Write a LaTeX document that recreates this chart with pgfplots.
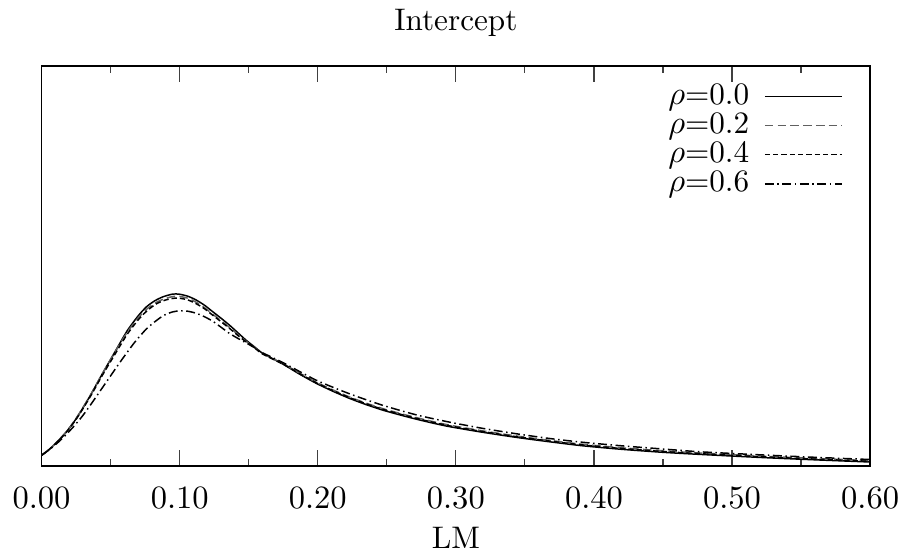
\documentclass[border=0pt]{standalone}
\usepackage{pgfplots}
\pgfplotsset{compat=1.18}
\definecolor{dgray}{RGB}{96,96,96}
\begin{document}
\fontsize{10.5}{12.6}\selectfont
\begin{tikzpicture}
\begin{axis}[
  scale only axis,
  width=278.9pt, height=134.7pt,
  xmin=0, xmax=0.6, ymin=0, ymax=400,
  xtick={0,0.1,0.2,0.3,0.4,0.5,0.6},
  xticklabels={$0.00$,$0.10$,$0.20$,$0.30$,$0.40$,$0.50$,$0.60$},
  minor xtick={0.05,0.15,0.25,0.35,0.45,0.55},
  ytick=\empty,
  xtick pos=both, xticklabel pos=lower,
  tick align=inside,
  major tick length=5.4pt, minor tick length=2.4pt,
  tick style={line width=0.4pt, black!75},
  axis line style={line width=0.6pt},
  xticklabel style={yshift=-3.6pt},
  xlabel={LM},
  xlabel style={at={(axis description cs:0.5,0)}, anchor=base, yshift=-27.7pt},
  title={Intercept},
  every axis title shift=0pt,
  title style={at={(axis description cs:0.5,1)}, anchor=base, yshift=11.7pt},
  legend plot pos=right,
  legend cell align=right,
  legend style={draw=none, fill=none, at={(rel axis cs:1,1)}, anchor=north east,
    xshift=-6.1pt, yshift=-3.3pt, nodes={inner ysep=0.6pt, inner xsep=2pt}, row sep=0pt},
  legend image code/.code={\path (0pt,0pt); \draw[#1] (3pt,0pt) -- (28.9pt,0pt);},
  every axis plot/.append style={line width=0.5pt, smooth, tension=0.4},
]
\addplot[black] coordinates {
(0.000,10.5) (0.006,17) (0.012,25) (0.018,34) (0.024,45) (0.030,58) (0.036,72)
(0.044,92) (0.054,116) (0.062,135) (0.070,150) (0.076,159) (0.082,165) (0.088,169)
(0.095,171.7) (0.100,171.5) (0.106,169.5) (0.112,165.7) (0.118,160.5) (0.124,154)
(0.130,147.5) (0.136,140.7) (0.142,133.2) (0.148,125.7) (0.155,118) (0.160,112.5)
(0.175,101.5) (0.187,91.5) (0.199,82.4) (0.211,74.5) (0.223,67.4) (0.235,61.2)
(0.247,55.7) (0.260,50.7) (0.272,46.4) (0.284,42.5) (0.296,39) (0.320,33.4)
(0.344,28.4) (0.368,24) (0.392,20) (0.420,16.5) (0.450,13.5) (0.477,11.4)
(0.520,8.4) (0.560,6) (0.600,3.8)
};
\addlegendentry{$\rho$=0.0}
\addplot[dgray, dash pattern=on 2.9pt off 1.4pt] coordinates {
(0.000,10.5) (0.006,17) (0.012,25) (0.018,34.2) (0.024,45.3) (0.030,58.3) (0.036,72.2)
(0.044,92) (0.054,115.5) (0.062,133.5) (0.070,148) (0.076,156.5) (0.082,162.5) (0.088,166.5)
(0.095,169.2) (0.100,169.3) (0.106,167.5) (0.112,163.5) (0.118,158) (0.124,151.5)
(0.130,145) (0.136,138.5) (0.142,131.5) (0.148,124.5) (0.155,117.5) (0.160,112.3)
(0.175,102) (0.187,92.5) (0.199,83.5) (0.211,75.8) (0.223,68.8) (0.235,62.6)
(0.247,57.2) (0.260,52.2) (0.272,48) (0.284,44) (0.296,40.5) (0.320,34.8)
(0.344,29.8) (0.368,25.4) (0.392,21.5) (0.420,18) (0.450,15) (0.477,12.8)
(0.520,9.8) (0.560,7.4) (0.600,5.2)
};
\addlegendentry{$\rho$=0.2}
\addplot[black, dash pattern=on 1.8pt off 1pt] coordinates {
(0.000,10.5) (0.006,16.8) (0.012,24.7) (0.018,33.7) (0.024,44.5) (0.030,57.2) (0.036,71)
(0.044,90.5) (0.054,113.5) (0.062,131.5) (0.070,146) (0.076,154.5) (0.082,161) (0.088,165)
(0.095,167.4) (0.100,167.5) (0.106,165.8) (0.112,162) (0.118,157) (0.124,150.5)
(0.130,144) (0.136,137.5) (0.142,130.5) (0.148,124) (0.155,117) (0.160,111.8)
(0.175,101.5) (0.187,92) (0.199,83) (0.211,75.2) (0.223,68.2) (0.235,62)
(0.247,56.5) (0.260,51.5) (0.272,47.2) (0.284,43.3) (0.296,39.8) (0.320,34.1)
(0.344,29.1) (0.368,24.7) (0.392,20.8) (0.420,17.3) (0.450,14.3) (0.477,12.1)
(0.520,9.1) (0.560,6.7) (0.600,4.5)
};
\addlegendentry{$\rho$=0.4}
\addplot[black, dash pattern=on 3pt off 1.2pt on 0.5pt off 1.2pt] coordinates {
(0.000,10.5) (0.006,16.5) (0.012,23.5) (0.018,31.5) (0.024,40.5) (0.030,50.5) (0.036,62)
(0.044,78) (0.050,90) (0.056,102) (0.062,113.5) (0.068,124.5) (0.076,137) (0.082,144)
(0.088,150) (0.094,153.5) (0.100,155) (0.106,154.5) (0.112,152.5) (0.118,149)
(0.124,144.5) (0.130,138.5) (0.136,132.4) (0.142,127.5) (0.148,123) (0.155,117.5)
(0.160,113) (0.175,103) (0.199,85.5) (0.223,72) (0.247,60.5) (0.272,50.7)
(0.296,43.5) (0.320,37.3) (0.344,32) (0.368,27.3) (0.392,23.5) (0.420,20)
(0.450,16.8) (0.477,14) (0.520,11) (0.560,8.5) (0.600,6.3)
};
\addlegendentry{$\rho$=0.6}
\end{axis}
\pgfresetboundingbox
\path[use as bounding box] ([shift={(-14pt,-31.1pt)}]current axis.south west) rectangle ([shift={(10.4pt,22.1pt)}]current axis.north east);
\end{tikzpicture}
\end{document}
